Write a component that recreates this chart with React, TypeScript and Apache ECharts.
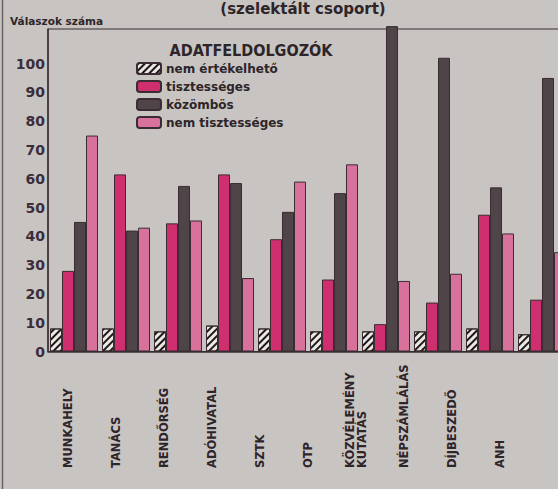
import React, { useEffect, useRef } from "react";
import * as echarts from "echarts";

const categories = [
  "MUNKAHELY",
  "TANÁCS",
  "RENDŐRSÉG",
  "ADÓHIVATAL",
  "SZTK",
  "OTP",
  "KÖZVÉLEMÉNY\nKUTATÁS",
  "NÉPSZÁMLÁLÁS",
  "DÍJBESZEDŐ",
  "ANH",
];
const nemErtekelheto = [8, 8, 7, 9, 8, 7, 7, 7, 8, 6];
const tisztesseges = [28, 61.5, 44.5, 61.5, 39, 25, 9.5, 17, 47.5, 18];
const kozombos = [45, 42, 57.5, 58.5, 48.5, 55, 113, 102, 57, 95];
const nemTisztesseges = [75, 43, 45.5, 25.5, 59, 65, 24.5, 27, 41, 34.5];
const seriesNames = ["nem értékelhető", "tisztességes", "közömbös", "nem tisztességes"];
const yTicks = [0, 10, 20, 30, 40, 50, 60, 70, 80, 90, 100];

const INK = "#2e2529";
const BORDER = "#3a2c32";

export default function App() {
  const ref = useRef<HTMLDivElement>(null);
  useEffect(() => {
    if (!ref.current) return;
    const chart = echarts.init(ref.current, undefined, { renderer: "svg" });
    const barBase = {
      type: "bar" as const,
      xAxisIndex: 0,
      yAxisIndex: 0,
      barWidth: 12,
      barGap: "0%",
      clip: false,
    };
    chart.setOption({
      animation: false,
      backgroundColor: "#c8c4c2",
      textStyle: { fontFamily: "DejaVu Sans" },
      title: {
        text: "Válaszok száma",
        left: 5,
        top: 10,
        textStyle: { fontSize: 10.5, fontWeight: "bold", color: INK, fontFamily: "DejaVu Sans" },
      },
      legend: {
        orient: "vertical",
        left: 131,
        top: 57,
        itemWidth: 24,
        itemHeight: 11,
        itemGap: 5,
        data: seriesNames,
        textStyle: { fontSize: 12, fontWeight: "bold", color: INK, fontFamily: "DejaVu Sans" },
      },
      graphic: [
        {
          type: "text",
          x: 303,
          y: 1,
          style: {
            text: "(szelektált csoport)",
            fill: INK,
            font: "bold 15px 'DejaVu Sans'",
            textAlign: "center",
            textVerticalAlign: "top",
          },
        },
        {
          type: "text",
          x: 251,
          y: 50,
          style: {
            text: "ADATFELDOLGOZÓK",
            fill: INK,
            font: "bold 16px 'DejaVu Sans Condensed', 'DejaVu Sans'",
            textAlign: "center",
            textVerticalAlign: "middle",
          },
        },
        {
          type: "line",
          shape: { x1: 2.5, y1: 0, x2: 2.5, y2: 489 },
          style: { stroke: "#6a6265", lineWidth: 1.5 },
        },
      ],
      grid: [
        {
          left: 48,
          top: 29,
          width: 520,
          height: 322.5,
          show: true,
          borderColor: BORDER,
          borderWidth: 1,
          backgroundColor: "transparent",
        },
        { left: 44, width: 480, top: 400, height: 60 },
      ],
      xAxis: [
        {
          type: "category",
          gridIndex: 0,
          data: categories,
          axisLine: { show: true, lineStyle: { color: BORDER, width: 1.5 } },
          axisTick: { show: false },
          axisLabel: { show: false },
          splitLine: { show: false },
        },
        {
          type: "category",
          gridIndex: 1,
          data: categories,
          axisLine: { show: false },
          axisTick: { show: false },
          splitLine: { show: false },
          axisLabel: {
            interval: 0,
            rotate: 90,
            align: "left",
            verticalAlign: "middle",
            margin: 8,
            fontSize: 11.5,
            fontWeight: "bold",
            lineHeight: 12,
            color: INK,
            fontFamily: "DejaVu Sans",
          },
        },
      ],
      yAxis: [
        {
          type: "value",
          gridIndex: 0,
          min: 0,
          max: 112,
          interval: 10,
          axisLine: { show: true, lineStyle: { color: BORDER, width: 1.5 } },
          axisTick: { show: false },
          splitLine: { show: false },
          axisLabel: {
            margin: 3,
            fontSize: 14,
            fontWeight: "bold",
            color: "#3a2d3c",
            fontFamily: "DejaVu Sans",
            formatter: (v: number) => (yTicks.includes(v) ? String(v) : ""),
          },
        },
        { type: "value", gridIndex: 1, show: false },
      ],
      series: [
        {
          ...barBase,
          name: seriesNames[0],
          data: nemErtekelheto,
          itemStyle: {
            color: "#ece8e4",
            borderColor: BORDER,
            borderWidth: 1,
            decal: {
              symbol: "rect",
              symbolSize: 1,
              color: "#1e181b",
              dashArrayX: [1, 0],
              dashArrayY: [2, 3],
              rotation: -Math.PI / 4,
            },
          },
        },
        {
          ...barBase,
          name: seriesNames[1],
          data: tisztesseges,
          itemStyle: { color: "#cf2f6f", borderColor: BORDER, borderWidth: 1 },
        },
        {
          ...barBase,
          name: seriesNames[2],
          data: kozombos,
          itemStyle: { color: "#4f4448", borderColor: BORDER, borderWidth: 1 },
        },
        {
          ...barBase,
          name: seriesNames[3],
          data: nemTisztesseges,
          itemStyle: { color: "#d8729c", borderColor: BORDER, borderWidth: 1 },
        },
      ],
    });
    return () => chart.dispose();
  }, []);
  return (
    <div
      style={{
        position: "fixed",
        left: 0,
        top: 0,
        width: 558,
        height: 489,
        overflow: "hidden",
        background: "#c8c4c2",
      }}
    >
      <div ref={ref} style={{ width: 580, height: 489 }} />
    </div>
  );
}
